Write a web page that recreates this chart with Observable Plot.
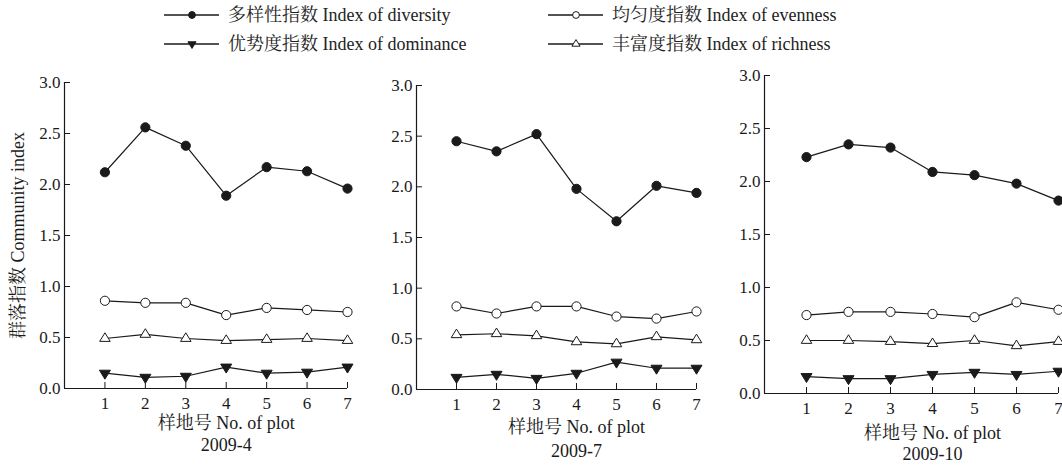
<!DOCTYPE html>
<html><head><meta charset="utf-8">
<script src="https://cdn.jsdelivr.net/npm/d3@7"></script>
<script src="https://cdn.jsdelivr.net/npm/@observablehq/plot@0.6"></script>
<style>
body{margin:0;background:#fff;}
#wrap{position:relative;width:1062px;height:470px;overflow:hidden;background:#fff;font-family:"Liberation Serif","Noto Serif CJK SC","Noto Sans CJK SC",serif;color:#222;}
.panel{position:absolute;}
.lg{position:absolute;display:flex;align-items:center;font-size:18px;white-space:nowrap;line-height:1;}
.lg svg{margin-right:9px;}
</style></head><body><div id="wrap"></div>
<script>
// ---- data ----
const plots = [1, 2, 3, 4, 5, 6, 7];
const seriesNames = ["diversity", "evenness", "dominance", "richness"];
const seriesLabels = ["多样性指数 Index of diversity", "均匀度指数 Index of evenness", "优势度指数 Index of dominance", "丰富度指数 Index of richness"];
const periods = ["2009-4", "2009-7", "2009-10"];
const yTicks = [0, 0.5, 1, 1.5, 2, 2.5, 3];
const xTitle = "样地号 No. of plot";
const yTitle = "群落指数 Community index";

const diversity_2009_4 = [2.12, 2.56, 2.38, 1.89, 2.17, 2.13, 1.96];
const evenness_2009_4  = [0.86, 0.84, 0.84, 0.72, 0.79, 0.77, 0.75];
const dominance_2009_4 = [0.15, 0.11, 0.12, 0.21, 0.15, 0.16, 0.21];
const richness_2009_4  = [0.49, 0.53, 0.49, 0.47, 0.48, 0.49, 0.47];

const diversity_2009_7 = [2.45, 2.35, 2.52, 1.98, 1.66, 2.01, 1.94];
const evenness_2009_7  = [0.82, 0.75, 0.82, 0.82, 0.72, 0.70, 0.77];
const dominance_2009_7 = [0.12, 0.15, 0.11, 0.16, 0.27, 0.21, 0.21];
const richness_2009_7  = [0.54, 0.55, 0.53, 0.47, 0.45, 0.52, 0.49];

const diversity_2009_10 = [2.23, 2.35, 2.32, 2.09, 2.06, 1.98, 1.82];
const evenness_2009_10  = [0.74, 0.77, 0.77, 0.75, 0.72, 0.86, 0.79];
const dominance_2009_10 = [0.16, 0.14, 0.14, 0.18, 0.20, 0.18, 0.21];
const richness_2009_10  = [0.50, 0.50, 0.49, 0.47, 0.50, 0.45, 0.49];

// ---- styling ----
const ink = "#1a1a1a";
const fontFamily = '"Liberation Serif","Noto Serif CJK SC","Noto Sans CJK SC",serif';

const triangleDown = {draw(ctx, size) {
  const r = Math.sqrt(size / Math.PI), w = r * 1.2, h = r * 1.95;
  ctx.moveTo(-w, -h / 3); ctx.lineTo(w, -h / 3); ctx.lineTo(0, 2 * h / 3); ctx.closePath();
}};
const triangleUp = {draw(ctx, size) {
  const r = Math.sqrt(size / Math.PI), w = r * 1.2, h = r * 1.95;
  ctx.moveTo(0, -2 * h / 3); ctx.lineTo(w, h / 3); ctx.lineTo(-w, h / 3); ctx.closePath();
}};
const markerStyle = {
  diversity: {symbol: "circle", fill: ink, r: 4.6},
  evenness: {symbol: "circle", fill: "white", r: 4.6},
  dominance: {symbol: triangleDown, fill: ink, r: 4.6},
  richness: {symbol: triangleUp, fill: "white", r: 4.4}
};

const panels = [
  {period: periods[0], values: [diversity_2009_4, evenness_2009_4, dominance_2009_4, richness_2009_4],
   left: 0, top: 60, width: 360, height: 410, ml: 64, mr: 13, mt: 22, mb: 82, dy1: 40, dy2: 62, ylabel: true},
  {period: periods[1], values: [diversity_2009_7, evenness_2009_7, dominance_2009_7, richness_2009_7],
   left: 360, top: 60, width: 350, height: 410, ml: 56, mr: 14, mt: 25, mb: 81, dy1: 43, dy2: 67, ylabel: false},
  {period: periods[2], values: [diversity_2009_10, evenness_2009_10, dominance_2009_10, richness_2009_10],
   left: 710, top: 55, width: 370, height: 415, ml: 54, mr: 22, mt: 20, mb: 77, dy1: 45, dy2: 66, ylabel: false}
];

const wrap = document.getElementById("wrap");

panels.forEach(cfg => {
  const rows = [];
  seriesNames.forEach((s, k) => cfg.values[k].forEach((v, i) => rows.push({series: s, plot: plots[i], value: v})));
  const fw = cfg.width - cfg.ml - cfg.mr, fh = cfg.height - cfg.mt - cfg.mb;
  const mid = d3.median(plots);
  const marks = [
    Plot.ruleY([0], {stroke: ink, strokeWidth: 1.2}),
    Plot.ruleX([0], {stroke: ink, strokeWidth: 1.2}),
    Plot.tickX(plots, {x: d => d, insetTop: fh - 6, stroke: ink}),
    Plot.tickY(yTicks, {y: d => d, insetRight: fw - 6, stroke: ink}),
    Plot.axisX({ticks: plots, tickSize: 0, tickPadding: 8, tickFormat: d => String(d), fontSize: 17, fill: ink}),
    Plot.axisY({ticks: yTicks, tickSize: 0, tickPadding: 4, tickFormat: d3.format(".1f"), fontSize: 17, fill: ink}),
    Plot.line(rows, {x: "plot", y: "value", z: "series", stroke: ink, strokeWidth: 1.2}),
    ...seriesNames.map(s => Plot.dot(rows.filter(d => d.series === s), {
      x: "plot", y: "value", stroke: ink, strokeWidth: 1, ...markerStyle[s]})),
    Plot.text([{t: xTitle, x: mid}], {x: "x", text: "t", frameAnchor: "bottom", dy: cfg.dy1, fontSize: 18, fill: ink}),
    Plot.text([{t: cfg.period, x: mid}], {x: "x", text: "t", frameAnchor: "bottom", dy: cfg.dy2, fontSize: 18, fill: ink})
  ];
  if (cfg.ylabel) marks.push(Plot.text([{t: yTitle}], {text: "t", frameAnchor: "left", textAnchor: "middle", rotate: -90, dx: -46, fontSize: 18, fill: ink}));
  const chart = Plot.plot({
    width: cfg.width, height: cfg.height,
    marginLeft: cfg.ml, marginRight: cfg.mr, marginTop: cfg.mt, marginBottom: cfg.mb,
    x: {domain: [0, 7], label: null},
    y: {domain: [0, 3], label: null},
    style: {fontFamily, background: "transparent", overflow: "visible", color: ink},
    marks
  });
  chart.classList.add("panel");
  chart.style.left = cfg.left + "px";
  chart.style.top = cfg.top + "px";
  wrap.appendChild(chart);
});

// ---- legend ----
const legendPos = [
  {left: 164, top: 15}, {left: 548, top: 15}, {left: 164, top: 44}, {left: 548, top: 44}
];
legendPos.forEach((pos, i) => {
  const s = seriesNames[i];
  const div = document.createElement("div");
  div.className = "lg";
  div.style.left = pos.left + "px";
  div.style.top = (pos.top - 10) + "px";
  div.style.height = "20px";
  const ns = "http://www.w3.org/2000/svg";
  const svg = document.createElementNS(ns, "svg");
  svg.setAttribute("width", 55); svg.setAttribute("height", 14);
  const line = document.createElementNS(ns, "line");
  line.setAttribute("x1", 0); line.setAttribute("x2", 55); line.setAttribute("y1", 7); line.setAttribute("y2", 7);
  line.setAttribute("stroke", ink); line.setAttribute("stroke-width", 1.3);
  svg.appendChild(line);
  const st = markerStyle[s];
  const sym = typeof st.symbol === "string" ? d3.symbolCircle : st.symbol;
  const p = document.createElementNS(ns, "path");
  const r = 3.4;
  p.setAttribute("d", d3.symbol(sym, Math.PI * r * r)());
  p.setAttribute("transform", "translate(28,7)");
  p.setAttribute("fill", st.fill); p.setAttribute("stroke", ink); p.setAttribute("stroke-width", 1);
  svg.appendChild(p);
  div.appendChild(svg);
  const span = document.createElement("span");
  span.textContent = seriesLabels[i];
  div.appendChild(span);
  wrap.appendChild(div);
});
</script></body></html>
